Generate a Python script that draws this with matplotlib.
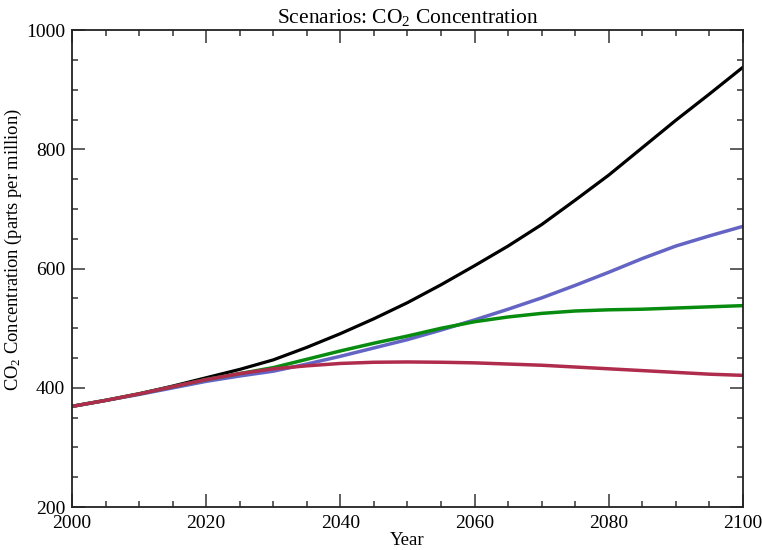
import numpy as np
import matplotlib
matplotlib.use("Agg")
import matplotlib.pyplot as plt
from matplotlib.ticker import MultipleLocator

plt.rcParams['font.family'] = ['Liberation Serif', 'DejaVu Serif']
plt.rcParams['mathtext.fontset'] = 'custom'
plt.rcParams['mathtext.rm'] = 'Liberation Serif'
plt.rcParams['mathtext.it'] = 'Liberation Serif:italic'

# data
years = [2000, 2005, 2010, 2015, 2020, 2025, 2030, 2035, 2040, 2045, 2050,
         2055, 2060, 2065, 2070, 2075, 2080, 2085, 2090, 2095, 2100]
co2_black = [369, 379, 390, 403, 417, 431, 447, 468, 491, 516, 543,
             573, 605, 638, 674, 715, 757, 803, 849, 893, 938]
co2_blue = [369, 379, 389, 400, 411, 420, 428, 440, 453, 467, 481,
            497, 514, 532, 551, 572, 594, 617, 638, 655, 671]
co2_green = [369, 379, 390, 402, 414, 424, 434, 448, 462, 475, 487,
             500, 511, 519, 525, 529, 531, 532, 534, 536, 538]
co2_red = [369, 379, 390, 402, 414, 424, 432, 437, 441, 443, 443.5,
           443, 442, 440, 438, 435, 432, 429, 426, 423, 421]

fig = plt.figure(figsize=(7.62, 5.5), dpi=100)
ax = fig.add_axes([0.0945, 0.078, 0.8805, 0.867])

ax.plot(years, co2_black, color='black', lw=2.3)
ax.plot(years, co2_blue, color='#6464c4', lw=2.5)
ax.plot(years, co2_green, color='#088c10', lw=2.5)
ax.plot(years, co2_red, color='#b02c4c', lw=2.5)

ax.set_xlim(2000, 2100)
ax.set_ylim(200, 1000)
ax.xaxis.set_major_locator(MultipleLocator(20))
ax.xaxis.set_minor_locator(MultipleLocator(5))
ax.yaxis.set_major_locator(MultipleLocator(200))
ax.yaxis.set_minor_locator(MultipleLocator(50))
ax.tick_params(which='both', direction='in', top=True, right=True,
               color='#444444', width=1.2, labelsize=14)
ax.tick_params(which='major', length=9.5)
ax.tick_params(which='minor', length=4.5)
ax.tick_params(axis='x', pad=6)
ax.tick_params(axis='y', pad=5)
for s in ax.spines.values():
    s.set_linewidth(1.3)
    s.set_color('#222222')

ax.set_title('Scenarios: CO$_2$ Concentration', fontsize=15.5, pad=5)
ax.set_xlabel('Year', fontsize=13.5, labelpad=0)
ax.set_ylabel('CO$_2$ Concentration (parts per million)', fontsize=13.3)
ax.yaxis.set_label_coords(-0.071, 0.54)

fig.savefig('out.png', dpi=100)
